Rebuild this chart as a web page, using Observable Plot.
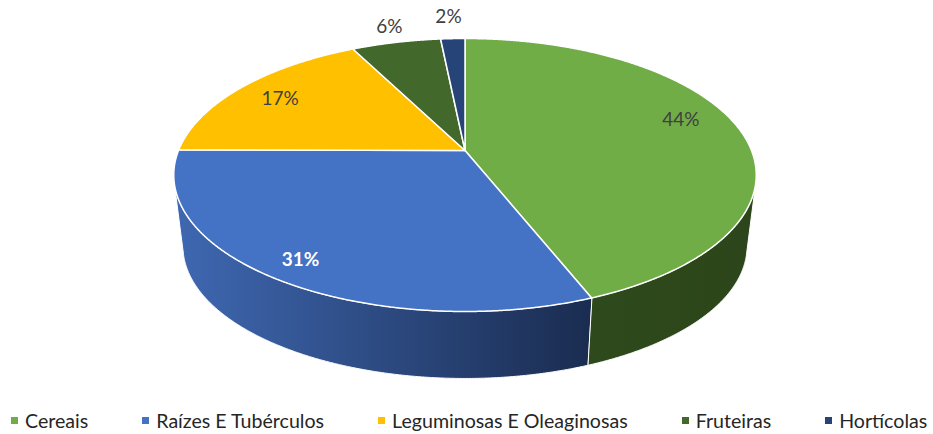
<!DOCTYPE html>
<html lang="pt">
<head>
<meta charset="utf-8">
<script src="https://cdn.jsdelivr.net/npm/d3@7"></script>
<script src="https://cdn.jsdelivr.net/npm/@observablehq/plot@0.6"></script>
<style>
  html, body { margin: 0; padding: 0; background: #fff; }
  #chart svg { display: block; }
  #legend { display: flex; gap: 54px; padding-left: 11px; height: 29px; align-items: center;
            font: 19.6px Lato, sans-serif; color: #262626; white-space: nowrap; position: relative; top: 1px; }
  #legend span { display: inline-flex; align-items: center; }
  #legend i { display: inline-block; width: 7px; height: 7px; margin-right: 7px; }
</style>
</head>
<body>
<div id="chart"></div>
<div id="legend"></div>
<script>
// Data
const categories = ["Cereais", "Raízes E Tubérculos", "Leguminosas E Oleaginosas", "Fruteiras", "Hortícolas"];
const shares = [44.0, 31.1, 17.4, 5.9, 1.6];
const topColors = ["#70AD47", "#4472C4", "#FFC000", "#43682B", "#264478"];
const sideStart = ["#2E4A1C", "#3F68B2", "#FFC000", "#43682B", "#264478"];
const sideEnd = ["#2C451A", "#1A2C50", "#FFC000", "#43682B", "#264478"];
const labelColors = ["#404040", "#FFFFFF", "#404040", "#404040", "#404040"];
const labelWeights = ["normal", "bold", "normal", "normal", "normal"];
const labelNudgeX = [10, -28, -14, -22, -7];
const labelNudgeY = [-12, 17, -3, -39, -46];

// Perspective of the disc: a circle of radius 1 seen from above, extruded downward
const view = {cx: 464.5, cy: 150, a: 286.5, b: 132.1, k: 0.1795, vanishY: 2430, depth: 0.9684};
const onTop = (t, r = 1) => {
  const X = r * Math.sin(t), Y = -r * Math.cos(t), d = 1 - view.k * Y;
  return [view.cx + view.a * X / d, view.cy + view.b * Y / d];
};
const onBottom = (t) => {
  const [x, y] = onTop(t);
  return [view.cx + view.depth * (x - view.cx), view.vanishY + view.depth * (y - view.vanishY)];
};
const step = Math.PI / 720;
const arcAngles = (a, b) => {
  const out = d3.range(a, b, step);
  out.push(b);
  return out;
};
// A point of the rim shows a side wall when the rim there faces the viewer
const faces = (t) => {
  const [x0, y0] = onTop(t - 1e-3), [x1, y1] = onTop(t + 1e-3), [x, y] = onTop(t);
  return (x1 - x0) * (view.vanishY - y) - (y1 - y0) * (view.cx - x) < 0;
};

const total = d3.sum(shares);
let acc = 0;
const slices = categories.map((category, i) => {
  const start = acc / total * 2 * Math.PI;
  acc += shares[i];
  const end = acc / total * 2 * Math.PI;
  return {category, i, start, end, mid: (start + end) / 2, label: `${Math.round(shares[i])}%`};
});

const polygon = (ring) => ({type: "Polygon", coordinates: [[...ring, ring[0]]]});
const topFace = (s) => polygon([[view.cx, view.cy], ...arcAngles(s.start, s.end).map((t) => onTop(t))]);
const wallFace = (s) => {
  const angles = arcAngles(s.start, s.end).filter(faces);
  if (angles.length < 2) return null;
  return polygon([...angles.map((t) => onTop(t)), ...angles.slice().reverse().map(onBottom)]);
};

const walls = slices.map((s) => ({...s, wall: wallFace(s)})).filter((s) => s.wall);

const defs = () => {
  const d = d3.create("svg:defs");
  walls.forEach((s) => {
    const g = d.append("linearGradient").attr("id", `wall${s.i}`);
    g.append("stop").attr("offset", "0%").attr("stop-color", sideStart[s.i]);
    g.append("stop").attr("offset", "100%").attr("stop-color", sideEnd[s.i]);
  });
  return d.node();
};

const labelMarks = slices.map((s) => {
  const [x, y] = onTop(s.mid, 0.75);
  return Plot.text([s], {
    x: () => x + labelNudgeX[s.i],
    y: () => y + labelNudgeY[s.i],
    text: "label",
    fill: labelColors[s.i],
    fontWeight: labelWeights[s.i],
    fontSize: 19,
    fontFamily: "Lato, sans-serif"
  });
});

const chart = Plot.plot({
  width: 933,
  height: 405,
  margin: 0,
  projection: d3.geoIdentity(),
  color: {domain: categories, range: topColors},
  marks: [
    defs,
    ...walls.map((s) => Plot.geo([s.wall], {fill: `url(#wall${s.i})`, stroke: "#fff", strokeWidth: 1})),
    Plot.geo(slices, {
      geometry: topFace,
      fill: "category",
      stroke: "#fff",
      strokeWidth: 1.5,
      strokeLinejoin: "round"
    }),
    ...labelMarks
  ]
});
document.getElementById("chart").append(chart);

const legend = d3.select("#legend");
categories.forEach((c, i) => {
  const item = legend.append("span");
  item.append("i").style("background", topColors[i]);
  item.append("b").style("font-weight", "normal").text(c);
});
</script>
</body>
</html>
